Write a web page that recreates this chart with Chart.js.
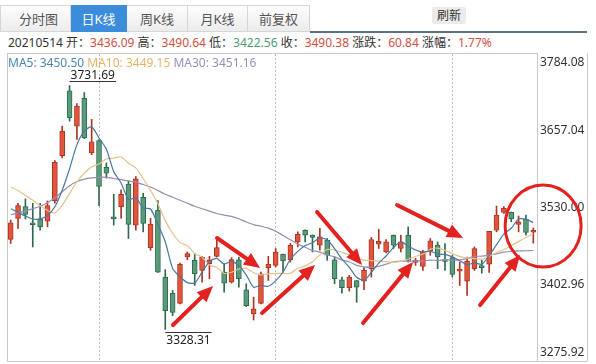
<!DOCTYPE html>
<html lang="zh-CN">
<head>
<meta charset="utf-8">
<title>上证指数 日K线</title>
<script src="https://cdn.jsdelivr.net/npm/chart.js@4.4.1/dist/chart.umd.min.js"></script>
<style>
  html, body { margin: 0; padding: 0; background: #fff; }
  body { position: relative; width: 596px; height: 364px; overflow: hidden;
    font-family: "Noto Sans", "Noto Sans CJK SC", sans-serif; font-size: 12px; color: #333; }
  .tabs { position: absolute; left: 0; top: 5px; height: 27px; display: flex; }
  .tab { box-sizing: border-box; height: 27px; line-height: 26px; text-align: center; font-size: 13px;
    color: #555; background: linear-gradient(#fdfdfd, #ececec); border: 1px solid #d6d6d6; border-left: none; }
  .tab:first-child { border-left: 1px solid #d6d6d6; padding-left: 6px; }
  .tab.on { background: #3b8ddc; border-color: #3b8ddc; color: #fff; }
  .line { position: absolute; top: 31px; height: 2px; left: 310px; width: 277px; background: #5a7282; }
  .refresh { position: absolute; left: 432px; top: 7px; width: 34px; height: 17px; line-height: 17px;
    text-align: center; background: #ebebeb; border-radius: 2px; font-size: 12px; color: #333; }
  .info { position: absolute; left: 8px; top: 33px; height: 20px; line-height: 20px; white-space: nowrap; }
  .up { color: #d0503f; }
  .dn { color: #4f9a72; }
  .ma { position: absolute; left: 8px; top: 55px; line-height: 15px; white-space: nowrap; }
  #kline { position: absolute; left: 0; top: 53px; }
</style>
</head>
<body>
<div class="tabs">
  <div class="tab" style="width:71px">分时图</div>
  <div class="tab on" style="width:56px">日K线</div>
  <div class="tab" style="width:61px">周K线</div>
  <div class="tab" style="width:60px">月K线</div>
  <div class="tab" style="width:62px">前复权</div>
</div>
<div class="refresh">刷新</div>
<div class="line"></div>
<div class="info">20210514 开：<span class="up">3436.09</span> 高：<span class="up">3490.64</span> 低：<span class="dn">3422.56</span> 收：<span class="up">3490.38</span> 涨跌：<span class="up">60.84</span> 涨幅：<span class="up">1.77%</span></div>
<canvas id="kline" width="596" height="311"></canvas>
<div class="ma" id="maLegend"></div>

<script>
// trading days shown
const dates = [
  '20210201','20210202','20210203','20210204','20210205','20210208','20210209','20210210',
  '20210218','20210219','20210222','20210223','20210224','20210225','20210226','20210301',
  '20210302','20210303','20210304','20210305','20210308','20210309','20210310','20210311',
  '20210312','20210315','20210316','20210317','20210318','20210319','20210322','20210323',
  '20210324','20210325','20210326','20210329','20210330','20210331','20210401','20210402',
  '20210406','20210407','20210408','20210409','20210412','20210413','20210414','20210415',
  '20210416','20210419','20210420','20210421','20210422','20210423','20210426','20210427',
  '20210428','20210429','20210430','20210506','20210507','20210510','20210511','20210512',
  '20210513','20210514','20210517','20210518','20210519','20210520','20210521','20210524'
];
const opens = [
  3477.0, 3512.0, 3531.4, 3503.7, 3510.9, 3507.5, 3541.4, 3615.8, 3723.0, 3664.6,
  3710.8, 3620.3, 3640.8, 3596.3, 3514.7, 3531.4, 3568.7, 3500.9, 3547.0, 3463.7,
  3525.9, 3414.7, 3388.1, 3371.4, 3448.1, 3442.6, 3425.9, 3437.1, 3449.2, 3423.1,
  3406.4, 3443.4, 3393.8, 3353.8, 3371.4, 3430.4, 3434.2, 3452.6, 3443.4, 3473.1,
  3492.5, 3484.2, 3467.6, 3475.9, 3443.4, 3410.4, 3397.1, 3409.2, 3408.1, 3428.7,
  3469.2, 3456.4, 3484.2, 3462.1, 3484.2, 3439.2, 3432.6, 3458.1, 3467.6, 3443.4,
  3447.0, 3424.8, 3408.1, 3428.7, 3432.6, 3436.09, 3492.5, 3522.0, 3522.0, 3502.0,
  3510.9, 3489.0
];
const highs = [
  3509.2, 3537.0, 3544.2, 3537.0, 3537.0, 3540.9, 3607.5, 3664.6, 3731.69, 3702.0,
  3720.3, 3675.8, 3642.5, 3603.7, 3552.0, 3559.2, 3574.2, 3581.3, 3553.7, 3512.0,
  3541.4, 3427.1, 3392.6, 3438.0, 3456.4, 3453.7, 3449.2, 3449.2, 3478.7, 3437.1,
  3447.0, 3448.1, 3403.7, 3381.4, 3423.1, 3449.2, 3462.1, 3453.0, 3470.4, 3489.7,
  3493.0, 3484.5, 3495.4, 3478.7, 3448.1, 3414.7, 3417.6, 3409.5, 3430.4, 3480.4,
  3493.7, 3477.0, 3484.5, 3484.2, 3498.0, 3445.9, 3459.2, 3478.7, 3473.1, 3470.4,
  3450.9, 3439.7, 3448.1, 3464.7, 3442.6, 3490.64, 3532.5, 3531.4, 3522.5, 3515.9,
  3517.5, 3496.0
];
const lows = [
  3470.4, 3495.4, 3510.9, 3464.7, 3492.5, 3498.0, 3537.0, 3612.0, 3673.0, 3642.5,
  3644.0, 3617.5, 3533.0, 3578.7, 3500.9, 3512.0, 3478.7, 3492.5, 3489.7, 3459.2,
  3422.6, 3328.31, 3350.9, 3370.4, 3443.4, 3400.9, 3406.4, 3412.1, 3448.1, 3389.8,
  3404.8, 3398.1, 3366.0, 3343.8, 3370.4, 3409.2, 3431.4, 3423.1, 3439.7, 3464.7,
  3473.1, 3456.4, 3459.2, 3442.6, 3403.7, 3388.1, 3391.4, 3373.1, 3393.8, 3414.7,
  3462.1, 3454.7, 3462.1, 3456.4, 3439.7, 3434.2, 3425.9, 3450.9, 3428.7, 3425.9,
  3414.7, 3400.9, 3384.3, 3425.9, 3421.4, 3422.56, 3489.7, 3520.3, 3506.4, 3489.7,
  3484.2, 3471.0
];
const closes = [
  3504.7, 3533.0, 3518.7, 3501.4, 3498.0, 3533.0, 3604.7, 3656.3, 3678.6, 3698.0,
  3645.3, 3638.7, 3564.7, 3587.0, 3510.9, 3552.0, 3502.0, 3577.5, 3503.7, 3502.5,
  3423.1, 3359.3, 3356.4, 3435.9, 3453.7, 3420.4, 3448.1, 3443.4, 3463.7, 3404.8,
  3443.7, 3412.1, 3367.6, 3362.1, 3420.4, 3435.9, 3456.4, 3441.4, 3467.6, 3485.4,
  3484.2, 3480.4, 3481.4, 3450.9, 3412.1, 3397.1, 3414.7, 3398.1, 3425.9, 3477.0,
  3474.2, 3473.1, 3467.6, 3473.1, 3442.6, 3441.7, 3456.4, 3474.7, 3448.1, 3440.6,
  3419.2, 3427.6, 3441.4, 3462.1, 3430.4, 3490.38, 3517.5, 3528.7, 3510.9, 3506.4,
  3488.7, 3490.5
];
const ma5 = [
  3528.0, 3522.0, 3516.0, 3511.0, 3511.2, 3516.8, 3531.2, 3558.7, 3594.1, 3634.1,
  3656.6, 3663.4, 3645.1, 3626.7, 3589.3, 3570.7, 3543.3, 3545.9, 3529.2, 3527.5,
  3501.8, 3473.2, 3429.0, 3415.4, 3405.7, 3405.1, 3422.9, 3440.3, 3445.9, 3436.1,
  3440.7, 3433.5, 3418.4, 3398.1, 3401.2, 3399.6, 3408.5, 3423.2, 3444.3, 3457.3,
  3467.0, 3471.8, 3479.8, 3476.5, 3461.8, 3444.4, 3431.2, 3414.6, 3409.6, 3422.6,
  3438.0, 3449.7, 3463.6, 3473.0, 3466.1, 3459.6, 3456.3, 3457.7, 3452.7, 3452.3,
  3447.8, 3442.0, 3435.4, 3438.2, 3436.1, 3450.50, 3468.4, 3485.8, 3495.6, 3510.8,
  3510.4, 3505.0
];
const ma10 = [
  3564.0, 3558.0, 3550.0, 3542.0, 3533.0, 3525.0, 3521.0, 3534.0, 3553.0, 3572.6,
  3586.7, 3597.3, 3601.9, 3610.4, 3611.7, 3613.6, 3603.4, 3595.5, 3578.0, 3558.4,
  3536.2, 3508.3, 3487.4, 3472.3, 3466.6, 3453.5, 3448.1, 3434.7, 3430.7, 3420.9,
  3422.9, 3428.2, 3429.3, 3422.0, 3418.6, 3420.2, 3421.0, 3420.8, 3421.2, 3429.3,
  3433.3, 3440.1, 3451.5, 3460.4, 3459.6, 3455.7, 3451.5, 3447.2, 3443.0, 3442.2,
  3441.2, 3440.5, 3439.1, 3441.3, 3444.3, 3448.8, 3453.0, 3460.6, 3462.9, 3459.2,
  3453.7, 3449.2, 3446.5, 3445.4, 3444.2, 3449.15, 3455.2, 3460.6, 3466.9, 3473.5,
  3480.4, 3486.7
];
const ma30 = [
  3518.0, 3521.0, 3524.0, 3528.0, 3532.0, 3538.0, 3546.0, 3556.0, 3566.0, 3573.0,
  3577.0, 3579.0, 3580.0, 3580.0, 3578.0, 3576.0, 3574.0, 3572.0, 3568.0, 3564.0,
  3558.0, 3552.0, 3547.0, 3542.0, 3537.0, 3532.0, 3528.0, 3524.0, 3520.0, 3517.3,
  3515.3, 3511.3, 3506.2, 3501.6, 3499.0, 3495.8, 3490.8, 3483.6, 3476.6, 3469.5,
  3464.2, 3458.9, 3456.1, 3451.6, 3448.3, 3443.1, 3440.2, 3434.2, 3431.6, 3430.8,
  3432.5, 3436.3, 3440.0, 3441.2, 3440.8, 3441.6, 3441.8, 3442.9, 3442.4, 3443.6,
  3442.7, 3443.3, 3445.7, 3449.0, 3449.4, 3451.16, 3453.2, 3456.1, 3457.6, 3458.3,
  3458.4, 3458.8
];
const yTicks = [3275.92, 3402.96, 3530.00, 3657.04, 3784.08];
const gridDays = ['20210224', '20210330', '20210507'];
const shownDay = '20210514';

// hand-drawn marks: [fromIndex, fromValue, toIndex, toValue]
const arrows = [
  [22.05, 3335.5, 27.49, 3400.1],
  [28.03, 3479.5, 33.88, 3429.9],
  [34.15, 3355.4, 41.35, 3434.8],
  [41.62, 3522.6, 47.73, 3434.8],
  [47.87, 3338.8, 54.66, 3439.8],
  [52.49, 3534.2, 61.46, 3479.5],
  [63.77, 3368.6, 69.20, 3451.4]
];
const ring = [72.33, 3499.4];

const UP = '#e2553d', UP_LINE = '#ad3524';
const DOWN = '#5a9c7a', DOWN_LINE = '#2f6a4f';
const isUp = closes.map((c, i) => c >= opens[i]);

const di = dates.indexOf(shownDay);
document.getElementById('maLegend').innerHTML =
  '<span style="color:#4a86b2">MA5: ' + ma5[di].toFixed(2) + '</span> ' +
  '<span style="color:#e6b468">MA10: ' + ma10[di].toFixed(2) + '</span> ' +
  '<span style="color:#9c8fbb">MA30: ' + ma30[di].toFixed(2) + '</span>';

const decor = {
  id: 'decor',
  afterDraw(chart) {
    const { ctx, chartArea: a, scales: { x, y } } = chart;
    ctx.save();
    // frame
    ctx.strokeStyle = '#c9c9c9';
    ctx.lineWidth = 1;
    ctx.beginPath();
    ctx.moveTo(a.left + 0.5, 0.5); ctx.lineTo(a.right + 0.5, 0.5);
    ctx.moveTo(a.left + 0.5, 0); ctx.lineTo(a.left + 0.5, a.bottom + 0.5);
    ctx.lineTo(587.5, a.bottom + 0.5);
    ctx.moveTo(a.right + 0.5, 0); ctx.lineTo(a.right + 0.5, a.bottom);
    ctx.moveTo(587.5, 0); ctx.lineTo(587.5, a.bottom);
    ctx.stroke();

    // price axis labels, kept inside the frame
    ctx.font = '12px "Noto Sans", "Noto Sans CJK SC", sans-serif';
    ctx.fillStyle = '#333';
    ctx.textAlign = 'left';
    ctx.textBaseline = 'middle';
    yTicks.forEach(v => {
      const py = Math.min(Math.max(y.getPixelForValue(v), a.top + 9), a.bottom - 8);
      ctx.fillText(v.toFixed(2), a.right + 3, py);
    });

    // highest high / lowest low markers
    ctx.fillStyle = '#222';
    ctx.strokeStyle = '#333';
    ctx.textBaseline = 'alphabetic';
    const hi = highs.indexOf(Math.max(...highs));
    const lo = lows.indexOf(Math.min(...lows));
    let px = x.getPixelForValue(hi), py = y.getPixelForValue(highs[hi]);
    let t = highs[hi].toFixed(2), w = ctx.measureText(t).width;
    ctx.beginPath(); ctx.moveTo(px, Math.round(py - 5) + 0.5); ctx.lineTo(px + w + 2, Math.round(py - 5) + 0.5); ctx.stroke();
    ctx.fillText(t, px + 1, py - 7);
    px = x.getPixelForValue(lo); py = y.getPixelForValue(lows[lo]);
    t = lows[lo].toFixed(2); w = ctx.measureText(t).width;
    ctx.beginPath(); ctx.moveTo(px, Math.round(py + 3) + 0.5); ctx.lineTo(px + w + 2, Math.round(py + 3) + 0.5); ctx.stroke();
    ctx.fillText(t, px + 1, py + 15);

    // red arrows and circle
    ctx.strokeStyle = '#e3221f';
    ctx.fillStyle = '#e3221f';
    ctx.lineCap = 'round';
    arrows.forEach(([i1, v1, i2, v2]) => {
      const x1 = x.getPixelForValue(i1), y1 = y.getPixelForValue(v1);
      const x2 = x.getPixelForValue(i2), y2 = y.getPixelForValue(v2);
      const ang = Math.atan2(y2 - y1, x2 - x1);
      const hl = 16, hw = 7;
      const bx = x2 - hl * Math.cos(ang), by = y2 - hl * Math.sin(ang);
      ctx.lineWidth = 4;
      ctx.beginPath(); ctx.moveTo(x1, y1); ctx.lineTo(bx, by); ctx.stroke();
      ctx.beginPath();
      ctx.moveTo(x2, y2);
      ctx.lineTo(bx + hw * Math.sin(ang), by - hw * Math.cos(ang));
      ctx.lineTo(bx - hw * Math.sin(ang), by + hw * Math.cos(ang));
      ctx.closePath(); ctx.fill();
    });
    ctx.lineWidth = 3;
    ctx.beginPath();
    ctx.ellipse(x.getPixelForValue(ring[0]), y.getPixelForValue(ring[1]), 38, 41, 0, 0, Math.PI * 2);
    ctx.stroke();
    ctx.restore();
  }
};

new Chart(document.getElementById('kline'), {
  type: 'bar',
  data: {
    labels: dates,
    datasets: [
      { type: 'line', label: 'MA5', data: ma5, borderColor: '#4a77a3', borderWidth: 1.2,
        pointRadius: 0, tension: 0.25, order: 1 },
      { type: 'line', label: 'MA10', data: ma10, borderColor: '#e6c28c', borderWidth: 1.2,
        pointRadius: 0, tension: 0.25, order: 1 },
      { type: 'line', label: 'MA30', data: ma30, borderColor: '#978cb3', borderWidth: 1.2,
        pointRadius: 0, tension: 0.25, order: 1 },
      { label: '实体', data: opens.map((o, i) => [o, closes[i]]),
        backgroundColor: isUp.map(u => u ? UP : DOWN),
        borderColor: isUp.map(u => u ? UP_LINE : DOWN_LINE),
        borderWidth: 1, borderSkipped: false, barThickness: 5, minBarLength: 2,
        grouped: false, order: 2 },
      { label: '影线', data: lows.map((l, i) => [l, highs[i]]),
        backgroundColor: isUp.map(u => u ? UP_LINE : DOWN_LINE),
        barThickness: 1, grouped: false, order: 3 }
    ]
  },
  options: {
    responsive: false,
    animation: false,
    layout: { padding: { left: 7, right: 9, top: 1, bottom: 3 } },
    plugins: { legend: { display: false }, tooltip: { enabled: false } },
    scales: {
      x: {
        ticks: { display: false, autoSkip: false },
        grid: {
          offset: false, drawTicks: false,
          color: c => gridDays.includes(dates[c.index]) ? '#bdbdbd' : 'rgba(0,0,0,0)'
        },
        border: { display: false, dash: [2, 2] },
        afterFit: s => { s.height = 0; }
      },
      y: {
        position: 'right',
        min: yTicks[0],
        max: yTicks[yTicks.length - 1],
        ticks: { display: false },
        grid: { display: false },
        border: { display: false },
        afterBuildTicks: s => { s.ticks = yTicks.map(v => ({ value: v })); },
        afterFit: s => { s.width = 50; }
      }
    }
  },
  plugins: [decor]
});
</script>
</body>
</html>
